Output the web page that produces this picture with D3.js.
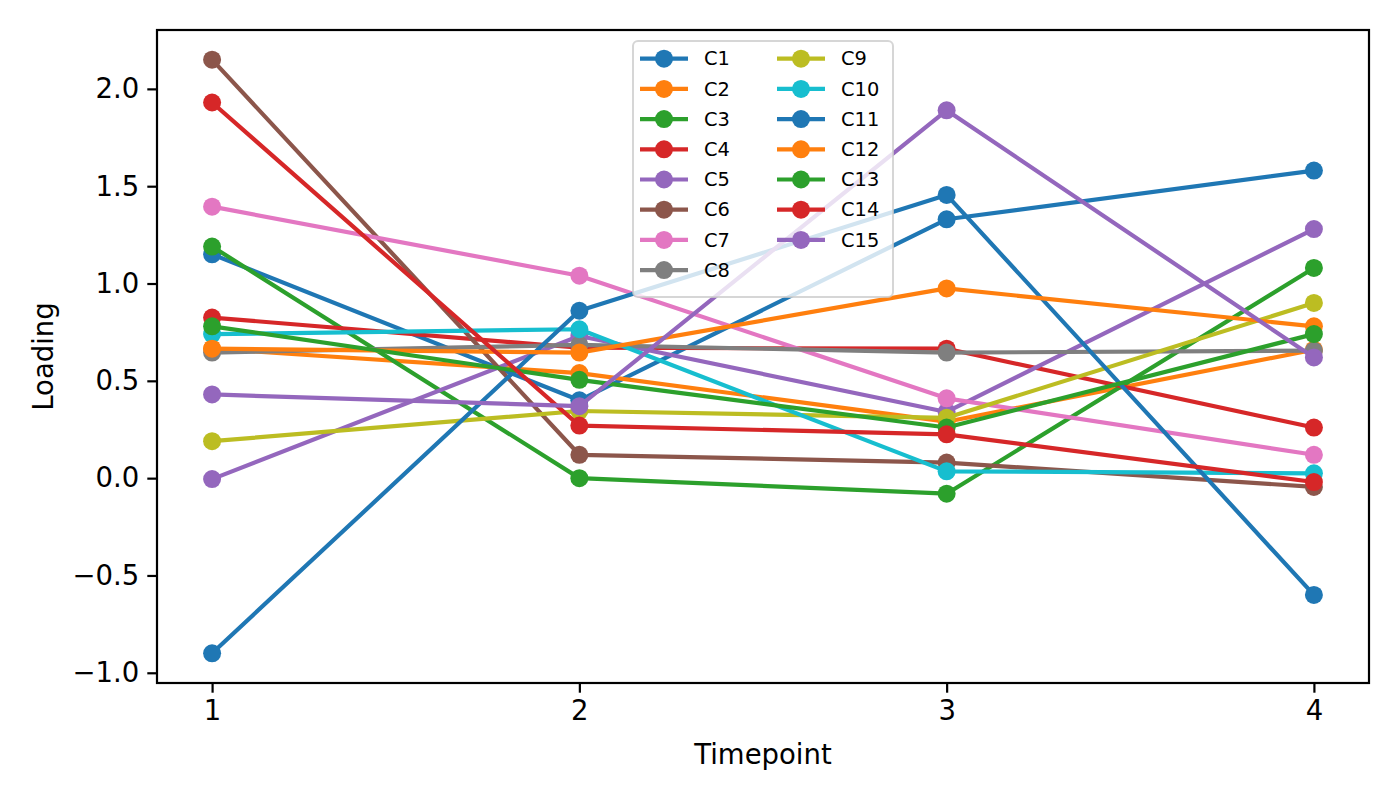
<!DOCTYPE html>
<html>
<head>
<meta charset="utf-8">
<script src="https://cdn.jsdelivr.net/npm/d3@7.9.0/dist/d3.min.js"></script>
<style>
  body { margin: 0; background: #fff; }
  text { font-family: "DejaVu Sans", sans-serif; fill: #000; }
</style>
</head>
<body>
<script>
// timepoints and component loadings
const timepoints = [1, 2, 3, 4];
const seriesNames = ["C1","C2","C3","C4","C5","C6","C7","C8","C9","C10","C11","C12","C13","C14","C15"];
const C1  = [1.15, 0.40, 1.33, 1.58];
const C2  = [0.665, 0.54, 0.29, 0.66];
const C3  = [1.19, 0.00, -0.08, 1.08];
const C4  = [0.825, 0.67, 0.665, 0.26];
const C5  = [-0.005, 0.73, 0.34, 1.28];
const C6  = [2.15, 0.12, 0.08, -0.045];
const C7  = [1.395, 1.04, 0.41, 0.12];
const C8  = [0.645, 0.685, 0.645, 0.655];
const C9  = [0.19, 0.345, 0.31, 0.90];
const C10 = [0.74, 0.765, 0.035, 0.025];
const C11 = [-0.90, 0.86, 1.455, -0.60];
const C12 = [0.665, 0.645, 0.975, 0.78];
const C13 = [0.78, 0.505, 0.26, 0.74];
const C14 = [1.93, 0.27, 0.225, -0.02];
const C15 = [0.43, 0.37, 1.89, 0.62];
const seriesValues = [C1, C2, C3, C4, C5, C6, C7, C8, C9, C10, C11, C12, C13, C14, C15];
const yTicks = [-1.0, -0.5, 0.0, 0.5, 1.0, 1.5, 2.0];

const tab10 = ["#1f77b4","#ff7f0e","#2ca02c","#d62728","#9467bd","#8c564b","#e377c2","#7f7f7f","#bcbd22","#17becf"];

const W = 1400, H = 800;
const margin = { top: 30, right: 31, bottom: 117, left: 157 };
const width = W - margin.left - margin.right;
const height = H - margin.top - margin.bottom;

const svg = d3.select("body").append("svg")
    .attr("width", W)
    .attr("height", H);

const g = svg.append("g")
    .attr("transform", `translate(${margin.left},${margin.top})`);

// matplotlib style 5% autoscale margins
const allVals = seriesValues.flat();
const yMin = d3.min(allVals), yMax = d3.max(allVals);
const yPad = (yMax - yMin) * 0.05;
const xPad = (d3.max(timepoints) - d3.min(timepoints)) * 0.05;

const x = d3.scaleLinear()
    .domain([d3.min(timepoints) - xPad, d3.max(timepoints) + xPad])
    .range([0, width]);

const y = d3.scaleLinear()
    .domain([yMin - yPad, yMax + yPad])
    .range([height, 0]);

const fmt = v => d3.format(".1f")(v).replace("-", "\u2212");

// axes
const xAxis = g.append("g")
    .attr("transform", `translate(0,${height})`)
    .call(d3.axisBottom(x).tickValues(timepoints).tickFormat(d3.format("d")).tickSize(9.7).tickPadding(8));
const yAxis = g.append("g")
    .call(d3.axisLeft(y).tickValues(yTicks).tickFormat(fmt).tickSize(9.7).tickPadding(8));
[xAxis, yAxis].forEach(a => {
    a.select(".domain").remove();
    a.selectAll(".tick line").attr("stroke", "#000").attr("stroke-width", 2.2);
    a.selectAll(".tick text").style("font-family", "DejaVu Sans").style("font-size", "27.5px").attr("fill", "#000");
});

// lines + markers, series by series
const line = d3.line()
    .x((d, i) => x(timepoints[i]))
    .y(d => y(d));

seriesValues.forEach((vals, k) => {
    const color = tab10[k % 10];
    g.append("path")
        .datum(vals)
        .attr("fill", "none")
        .attr("stroke", color)
        .attr("stroke-width", 4.2)
        .attr("stroke-linejoin", "round")
        .attr("stroke-linecap", "butt")
        .attr("d", line);
    g.selectAll(null)
        .data(vals)
        .enter().append("circle")
        .attr("cx", (d, i) => x(timepoints[i]))
        .attr("cy", d => y(d))
        .attr("r", 9)
        .attr("fill", color);
});

// frame
g.append("rect")
    .attr("x", 0).attr("y", 0)
    .attr("width", width).attr("height", height)
    .attr("fill", "none")
    .attr("stroke", "#000")
    .attr("stroke-width", 2.2);

// legend
const leg = svg.append("g").attr("transform", "translate(633,41)");
leg.append("rect")
    .attr("width", 260).attr("height", 256)
    .attr("rx", 5)
    .attr("fill", "#fff").attr("fill-opacity", 0.8)
    .attr("stroke", "#cccccc").attr("stroke-opacity", 0.8).attr("stroke-width", 2);

const rowH = 30.2, rowsPerCol = 8;
seriesNames.forEach((name, k) => {
    const col = Math.floor(k / rowsPerCol), row = k % rowsPerCol;
    const ox = col === 0 ? 7 : 144;
    const oy = 17.7 + row * rowH;
    const color = tab10[k % 10];
    const item = leg.append("g").attr("transform", `translate(${ox},${oy})`);
    item.append("line")
        .attr("x1", 0).attr("x2", 48)
        .attr("stroke", color).attr("stroke-width", 4.2);
    item.append("circle")
        .attr("cx", 24).attr("r", 9).attr("fill", color);
    item.append("text")
        .attr("x", 64).attr("dy", "0.35em")
        .style("font-size", "19.4px")
        .text(name);
});

// axis labels
svg.append("text")
    .attr("x", margin.left + width / 2)
    .attr("y", 764)
    .attr("text-anchor", "middle")
    .style("font-size", "27.5px")
    .text("Timepoint");

svg.append("text")
    .attr("transform", `translate(53,${margin.top + height / 2}) rotate(-90)`)
    .attr("text-anchor", "middle")
    .style("font-size", "27.5px")
    .text("Loading");
</script>
</body>
</html>
